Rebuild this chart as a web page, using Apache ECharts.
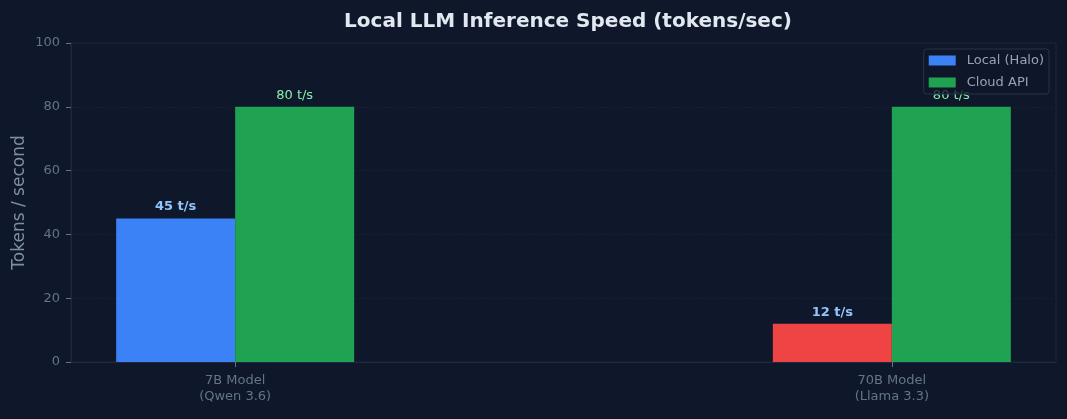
<!DOCTYPE html>
<html>
<head>
<meta charset="utf-8">
<script src="https://cdn.jsdelivr.net/npm/echarts@6/dist/echarts.min.js"></script>
<style>
  html, body { margin: 0; padding: 0; background: #0f172a; }
  #chart { width: 1067px; height: 419px; }
</style>
</head>
<body>
<div id="chart"></div>
<script>
var chart = echarts.init(document.getElementById('chart'));

// data
const categories = ['7B Model\n(Qwen 3.6)', '70B Model\n(Llama 3.3)'];
const localSpeed = [45, 12];
const cloudSpeed = [80, 80];
const localColors = ['#3b82f6', '#ef4444'];
const yTicks = [0, 20, 40, 60, 80, 100];

const font = 'DejaVu Sans';

const option = {
  backgroundColor: '#0f172a',
  textStyle: { fontFamily: font },
  title: {
    text: 'Local LLM Inference Speed (tokens/sec)',
    left: 563,
    textAlign: 'center',
    top: 7,
    textStyle: { color: '#e2e8f0', fontSize: 20, fontWeight: 'bold', fontFamily: font }
  },
  legend: {
    orient: 'vertical',
    right: 18,
    top: 49,
    backgroundColor: 'rgba(15,23,42,0.8)',
    borderColor: '#2a3446',
    borderWidth: 1,
    borderRadius: 3,
    padding: [5, 5, 5, 5],
    icon: 'rect',
    itemWidth: 27,
    itemHeight: 10,
    itemGap: 9,
    textStyle: { color: '#94a3b8', fontSize: 13, fontFamily: font, padding: [0, 0, 0, 6] },
    data: [
      { name: 'Local (Halo)', itemStyle: { color: '#3b82f6' } },
      { name: 'Cloud API', itemStyle: { color: '#1fa353' } }
    ]
  },
  grid: {
    left: 71,
    right: 11,
    top: 43,
    bottom: 57,
    show: true,
    borderColor: '#1e293b',
    borderWidth: 1,
    backgroundColor: 'transparent'
  },
  xAxis: {
    type: 'value',
    min: -0.25,
    max: 1.25,
    splitLine: { show: false },
    axisLine: { show: true, onZero: false, lineStyle: { color: '#1e293b' } },
    axisTick: { show: true, customValues: [0, 1], length: 5, lineStyle: { color: '#64748b' } },
    axisLabel: {
      customValues: [0, 1],
      color: '#64748b',
      fontSize: 13,
      lineHeight: 16,
      margin: 11,
      fontFamily: font,
      formatter: function (v) { return categories[Math.round(v)]; }
    }
  },
  yAxis: {
    type: 'value',
    min: 0,
    max: 100,
    interval: 20,
    name: 'Tokens / second',
    nameLocation: 'middle',
    nameGap: 43,
    nameMoveOverlap: false,
    nameTextStyle: { color: '#7f8ea3', fontSize: 17, fontFamily: font },
    axisLine: { show: true, onZero: false, lineStyle: { color: '#1e293b' } },
    axisTick: { show: true, length: 5, lineStyle: { color: '#64748b' } },
    axisLabel: {
      color: '#64748b',
      fontSize: 13,
      margin: 11,
      fontFamily: font,
      formatter: function (v) { return yTicks.indexOf(v) >= 0 ? v : ''; }
    },
    splitLine: { show: true, lineStyle: { color: '#151f31', type: 'dashed' } }
  },
  series: [
    {
      name: 'Local (Halo)',
      type: 'bar',
      barWidth: 119,
      barGap: '0%',
      itemStyle: { color: '#3b82f6' },
      data: localSpeed.map(function (v, i) {
        return { value: [i, v], itemStyle: { color: localColors[i] } };
      }),
      label: {
        show: true,
        position: 'top',
        distance: 5,
        color: '#93c5fd',
        fontWeight: 'bold',
        fontSize: 13,
        fontFamily: font,
        formatter: function (p) { return p.value[1] + ' t/s'; }
      }
    },
    {
      name: 'Cloud API',
      type: 'bar',
      barWidth: 119,
      barGap: '0%',
      itemStyle: { color: '#1fa353' },
      data: cloudSpeed.map(function (v, i) { return [i, v]; }),
      label: {
        show: true,
        position: 'top',
        distance: 5,
        color: '#86efac',
        fontSize: 13,
        fontFamily: font,
        formatter: function (p) { return p.value[1] + ' t/s'; }
      }
    }
  ]
};

chart.setOption(option);
</script>
</body>
</html>
